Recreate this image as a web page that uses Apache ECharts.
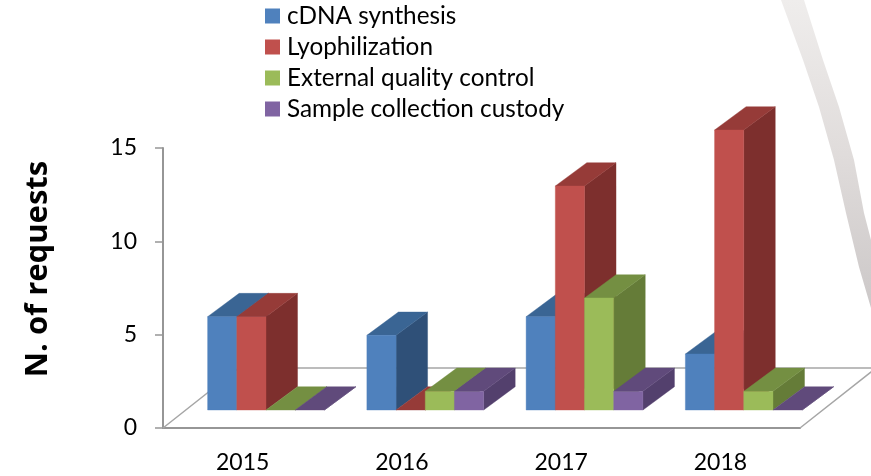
<!DOCTYPE html>
<html>
<head>
<meta charset="utf-8">
<style>
html,body{margin:0;padding:0;background:#fff}
#main{width:871px;height:476px}
</style>
<script src="https://cdn.jsdelivr.net/npm/echarts@6/dist/echarts.min.js"></script>
</head>
<body>
<div id="main"></div>
<script>
// data
var years = ['2015', '2016', '2017', '2018'];
var cdna = [5, 4, 5, 3];
var lyophilization = [5, 0, 12, 15];
var externalQc = [0, 1, 6, 1];
var sampleCustody = [0, 1, 1, 0];
var yTicks = [0, 5, 10, 15];

var names = ['cDNA synthesis', 'Lyophilization', 'External quality control', 'Sample collection custody'];
var values = [cdna, lyophilization, externalQc, sampleCustody];
// front, top, side
var colors = [
  ['#4F81BD', '#3A6594', '#2F5078'],
  ['#C0504D', '#963B38', '#7D2F2D'],
  ['#9BBB59', '#748F42', '#657C38'],
  ['#8064A2', '#604A7B', '#53406D']
];

var barW = 29.2;     // width of a bar front
var depthX = 31.5;   // how far a bar runs back
var depthY = 23.3;
var shiftX = 23.4;   // bars stand this far in from the front of the floor
var shiftY = 18;
var floorX = 76;     // full floor depth
var floorY = 60;

function poly(points, fill) {
  return {
    type: 'polygon',
    shape: { points: points },
    style: { fill: fill, stroke: fill, lineWidth: 0.4 }
  };
}

function barRenderer(s) {
  return function (params, api) {
    var idx = api.value(0);
    var base = api.coord([idx, 0]);
    var top = api.coord([idx, api.value(1)]);
    var x1 = base[0] + shiftX + (s - 2) * barW;
    var x2 = x1 + barW;
    var yb = base[1] - shiftY;
    var yt = top[1] - shiftY;
    var c = colors[s];
    var kids = [];
    // side, then top, then front
    kids.push(poly([[x2, yb], [x2 + depthX, yb - depthY], [x2 + depthX, yt - depthY], [x2, yt]], c[2]));
    kids.push(poly([[x1, yt], [x2, yt], [x2 + depthX, yt - depthY], [x1 + depthX, yt - depthY]], c[1]));
    if (yb - yt > 0) {
      kids.push(poly([[x1, yb], [x2, yb], [x2, yt], [x1, yt]], c[0]));
    }
    return { type: 'group', children: kids };
  };
}

function floorRenderer(params, api) {
  var cs = params.coordSys;
  var left = cs.x, right = cs.x + cs.width, y0 = cs.y + cs.height;
  return {
    type: 'polyline',
    shape: { points: [[left, y0], [left + floorX, y0 - floorY], [right + floorX, y0 - floorY], [right, y0]] },
    style: { fill: null, stroke: '#A6A6A6', lineWidth: 1.5 }
  };
}

var series = [{
  name: 'floor',
  type: 'custom',
  renderItem: floorRenderer,
  data: [[0, 0]],
  silent: true,
  z: 1
}];
names.forEach(function (name, s) {
  series.push({
    name: name,
    type: 'custom',
    renderItem: barRenderer(s),
    itemStyle: { color: colors[s][0] },
    encode: { x: 0, y: 1 },
    data: values[s].map(function (v, i) { return [i, v]; }),
    z: 2 + s
  });
});

var chart = echarts.init(document.getElementById('main'), null, { renderer: 'canvas' });

var option = {
  animation: false,
  backgroundColor: '#fff',
  textStyle: { fontFamily: 'Lato' },
  grid: { left: 163, right: 71, top: 148, bottom: 48 },
  legend: {
    data: names,
    orient: 'vertical',
    left: 260,
    top: -3,
    icon: 'rect',
    itemWidth: 15,
    itemHeight: 15,
    itemGap: 3,
    selectedMode: false,
    textStyle: { fontFamily: 'Lato', fontSize: 24.3, color: '#000', lineHeight: 28, padding: [0, 0, 0, 2] }
  },
  xAxis: {
    type: 'category',
    data: years,
    axisLine: { lineStyle: { color: '#969696', width: 2 } },
    axisTick: { show: false },
    axisLabel: { fontFamily: 'Lato', fontSize: 23, color: '#000', margin: 23 }
  },
  yAxis: {
    type: 'value',
    min: yTicks[0],
    max: yTicks[yTicks.length - 1],
    interval: 5,
    splitLine: { show: false },
    axisLine: { show: true, lineStyle: { color: '#969696', width: 2 } },
    axisTick: { show: true, length: 8, lineStyle: { color: '#969696', width: 1.5 } },
    axisLabel: { fontFamily: 'Lato', fontSize: 23, color: '#000', margin: 26, padding: [3, 0, 0, 0] }
  },
  graphic: [
    {
      // grey swoosh of the slide background
      type: 'polygon',
      z: -1,
      shape: {
        points: [[781, 0], [803, 60], [819, 107], [834, 160], [846, 213], [859, 267], [871, 308],
          [871, 240], [864, 213], [854, 160], [839, 107], [823, 60], [804, 0]]
      },
      style: {
        fill: new echarts.graphic.LinearGradient(0, 0, 0, 1, [
          { offset: 0, color: '#EFEDEC' },
          { offset: 0.5, color: '#E0DCDB' },
          { offset: 1, color: '#CCC8C8' }
        ])
      }
    },
    {
      type: 'text',
      x: 38,
      y: 269,
      rotation: Math.PI / 2,
      style: {
        text: 'N. of requests',
        fontFamily: 'Open Sans',
        fontWeight: 'bold',
        fontSize: 31,
        fill: '#000',
        align: 'center',
        verticalAlign: 'middle'
      }
    }
  ],
  series: series
};

chart.setOption(option);
</script>
</body>
</html>
